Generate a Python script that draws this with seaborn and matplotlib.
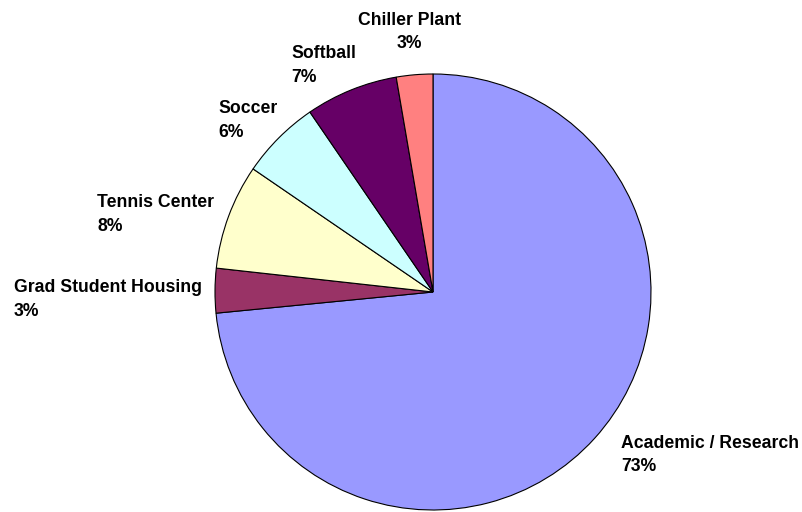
import matplotlib
matplotlib.use("Agg")
import matplotlib.pyplot as plt
import seaborn as sns

# ---- data ----
categories = ["Academic / Research", "Grad Student Housing", "Tennis Center",
              "Soccer", "Softball", "Chiller Plant"]
values = [73.45, 3.3, 7.8, 5.9, 6.85, 2.7]
colors = ["#9999FF", "#993366", "#FFFFCC", "#CCFFFF", "#660066", "#FF8080"]

# ---- layout (pixel coords, y from top) ----
W, H = 802, 512
center_px = (433, 292)
radius_px = 218
# (x, baseline1, baseline2, ha)
label_pos = {
    "Academic / Research": (621, 448, 471, "left"),
    "Grad Student Housing": (14, 292, 316, "left"),
    "Tennis Center": (97, 207, 231, "left"),
    "Soccer": (218, 113, 137, "left"),
    "Softball": (291, 58, 82, "left"),
    "Chiller Plant": (409, 25, 48, "center"),
}

sns.set_theme(style="white")
plt.rcParams["font.family"] = ["Liberation Sans", "DejaVu Sans"]

fig = plt.figure(figsize=(W / 100, H / 100), dpi=100)
ax = fig.add_axes([0, 0, 1, 1])
palette = sns.color_palette(colors)

ax.pie(values, colors=palette, startangle=90, counterclock=False,
       center=(center_px[0], H - center_px[1]), radius=radius_px,
       wedgeprops=dict(edgecolor="black", linewidth=0.8))
ax.set_xlim(0, W)
ax.set_ylim(0, H)
ax.set_aspect("equal")
ax.axis("off")

total = sum(values)
for cat, v in zip(categories, values):
    x, b1, b2, ha = label_pos[cat]
    kw = dict(ha=ha, va="baseline", fontsize=12.7, fontweight="bold", color="black")
    ax.text(x, H - b1, cat, **kw)
    ax.text(x, H - b2, f"{round(v / total * 100)}%", **kw)

fig.savefig("out.png", dpi=100, facecolor="white")
